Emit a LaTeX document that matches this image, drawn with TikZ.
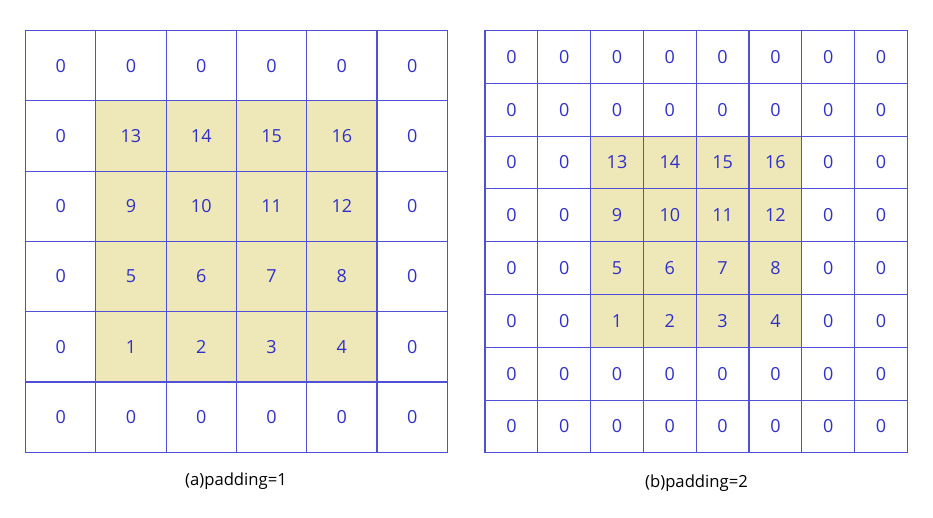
\documentclass[tikz,border=0pt]{standalone}
\usepackage{fontspec}
\setmainfont{Open Sans}
\usetikzlibrary{positioning}
\definecolor{gridblue}{RGB}{80,80,215}
\definecolor{numblue}{RGB}{48,48,200}
\definecolor{padfill}{RGB}{238,232,185}
\tikzset{cell/.style={draw=gridblue,line width=0.8pt,text=numblue,inner sep=0pt,font=\fontsize{13.5}{15}\selectfont}}
\tikzset{padcell/.style={cell,fill=padfill}}
\tikzset{caption/.style={font=\fontsize{12.5}{15}\selectfont}}

\begin{document}
\begin{tikzpicture}[x=0.75pt,y=-0.75pt]
        \useasboundingbox (0,0) rectangle (933,518);
        % (a) padding = 1
        \foreach \r in {0,...,5}{
            \foreach \c in {0,...,5}{
                \pgfmathtruncatemacro\inA{(\r>0)&&(\r<5)&&(\c>0)&&(\c<5)}
                \pgfmathtruncatemacro\v{\inA*((4-\r)*4+\c)}
                \ifnum\inA=1
                    \node[padcell,minimum size=52.7pt] (a-\r-\c) at ({25.5+70.3*(\c+0.5)},{30.5+70.3*(\r+0.5)}) {\v};
                \else
                    \node[cell,minimum size=52.7pt] (a-\r-\c) at ({25.5+70.3*(\c+0.5)},{30.5+70.3*(\r+0.5)}) {\v};
                \fi
            }
        }
        % (b) padding = 2
        \foreach \r in {0,...,7}{
            \foreach \c in {0,...,7}{
                \pgfmathtruncatemacro\inB{(\r>1)&&(\r<6)&&(\c>1)&&(\c<6)}
                \pgfmathtruncatemacro\v{\inB*((5-\r)*4+\c-1)}
                \ifnum\inB=1
                    \node[padcell,minimum size=39.6pt] (b-\r-\c) at ({485+52.8*(\c+0.5)},{30.5+52.8*(\r+0.5)}) {\v};
                \else
                    \node[cell,minimum size=39.6pt] (b-\r-\c) at ({485+52.8*(\c+0.5)},{30.5+52.8*(\r+0.5)}) {\v};
                \fi
            }
        }
        \node[caption] (capA) at (236,481) {(a)padding=1};
        \node[caption] (capB) at (696.5,483) {(b)padding=2};
    \end{tikzpicture}
\end{document}
